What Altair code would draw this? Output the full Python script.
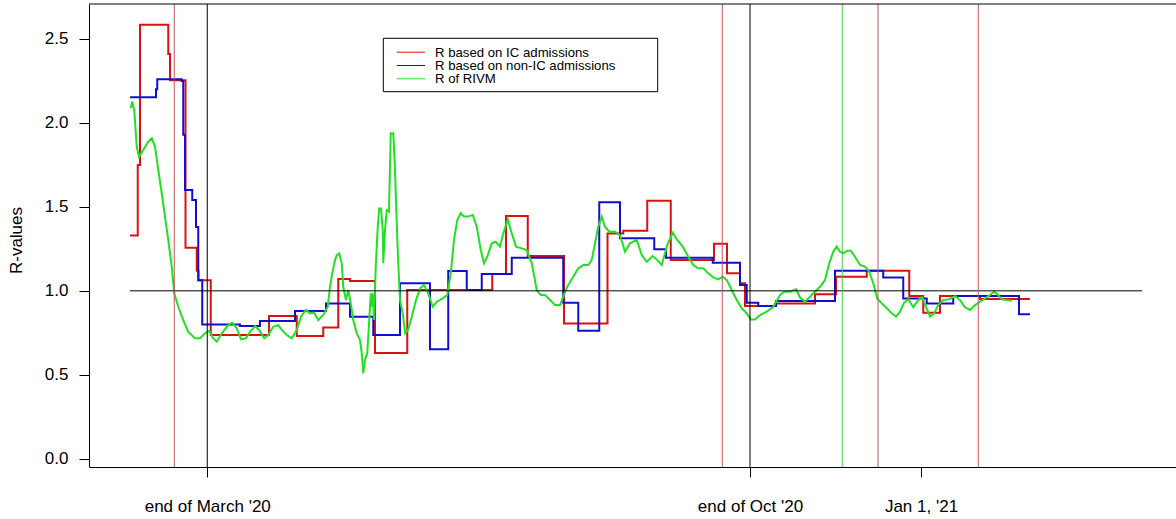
import json

import altair as alt
import pandas as pd

# ---------------------------------------------------------------------------
# Axes: x runs in days since the first estimate, y is the reproduction number
# ---------------------------------------------------------------------------
X_MIN, X_MAX = -16.4, 418.4
Y_MIN, Y_MAX = -0.049, 2.708

tick_days = [30.9, 248.0, 316.4]
tick_labels = ["end of March '20", "end of Oct '20", "Jan 1, '21"]
y_ticks = [0.0, 0.5, 1.0, 1.5, 2.0, 2.5]

# Reference level R = 1
ref_level = 1.0
ref_start, ref_end = 0.0, 404.8

# Marker days drawn as vertical lines
black_lines = [30.9, 248.0]
red_lines = [17.7, 236.9, 299.2, 339.3]
green_lines = [284.9]

series_names = ["R based on IC admissions", "R based on non-IC admissions", "R of RIVM"]
series_colors = ["#dc1010", "#1010cc", "#22e022"]

# R from IC admissions (step function: day the value starts, value)
ic_day = [0.0, 3.1, 4.0, 15.3, 16.0, 22.2, 26.7, 27.4, 32.3, 55.6, 66.7, 77.3,
          83.3, 88.0, 98.0, 110.9, 144.9, 150.4, 159.1, 173.6, 191.0, 197.3,
          206.9, 216.3, 233.6, 238.8, 244.0, 246.0, 258.0, 274.0, 282.4, 294.7,
          311.7, 317.3, 324.0, 340.0, 360.0]
ic_r = [1.33, 1.75, 2.585, 2.41, 2.254, 1.257, 1.12, 1.063, 0.737, 0.85, 0.731,
        0.782, 1.07, 1.058, 0.63, 1.005, 1.10, 1.445, 1.207, 0.806, 1.342, 1.358,
        1.537, 1.183, 1.28, 1.104, 1.045, 0.91, 0.925, 0.98, 1.084, 1.12, 0.969,
        0.87, 0.969, 0.951, 0.951]

# R from non-IC admissions (step function)
nonic_day = [0.0, 10.4, 10.9, 20.7, 21.3, 22.0, 24.9, 26.4, 27.3, 28.9, 44.0,
             52.0, 66.0, 78.4, 88.0, 97.3, 108.0, 120.0, 127.3, 134.7, 140.7,
             152.7, 173.3, 179.3, 187.7, 196.0, 209.7, 214.4, 233.1, 244.0,
             246.7, 251.3, 258.4, 282.0, 301.3, 309.3, 318.7, 329.3, 355.6, 360.0]
nonic_r = [2.152, 2.20, 2.26, 2.25, 1.93, 1.60, 1.541, 1.38, 1.063, 0.80, 0.79,
           0.82, 0.88, 0.925, 0.846, 0.737, 1.045, 0.652, 1.118, 1.005, 1.10,
           1.197, 0.929, 0.762, 1.527, 1.313, 1.247, 1.197, 1.167, 1.035, 0.929,
           0.91, 0.94, 1.12, 1.08, 0.955, 0.925, 0.969, 0.86, 0.86]

# RIVM estimate
rivm_day = [0.3, 0.9, 1.7, 2.7, 3.6, 5.3, 7.3, 8.7, 10.0, 11.3, 12.7, 14.0, 15.3,
            16.7, 17.7, 19.3, 21.3, 23.3, 26.0, 28.0, 30.0, 31.7, 33.3, 34.7,
            36.7, 39.3, 40.9, 42.7, 44.4, 46.3, 48.0, 50.0, 51.6, 53.7, 55.3,
            57.3, 59.3, 60.7, 62.7, 64.7, 66.7, 68.4, 70.3, 72.0, 73.6, 75.3,
            77.3, 79.1, 80.0, 80.9, 82.0, 82.7, 83.7, 84.7, 85.3, 86.4, 87.3,
            88.3, 89.3, 90.7, 92.0, 92.7, 93.3, 94.0, 94.9, 95.7, 96.3, 96.7,
            97.1, 97.6, 98.3, 99.1, 99.7, 100.4, 101.1, 101.3, 102.0, 102.7,
            103.6, 104.3, 105.3, 105.9, 106.7, 107.3, 108.0, 109.1, 110.1, 111.2,
            112.7, 114.4, 116.0, 117.6, 119.3, 121.1, 122.7, 125.1, 126.9, 128.3,
            129.6, 130.9, 132.3, 133.6, 135.3, 137.1, 138.7, 140.3, 141.6, 142.9,
            144.7, 146.3, 148.0, 149.3, 151.1, 152.7, 154.4, 156.7, 158.7, 160.7,
            162.7, 164.3, 166.0, 168.0, 170.0, 172.0, 173.3, 174.9, 177.3, 179.3,
            181.3, 183.3, 184.7, 186.0, 187.3, 188.7, 190.0, 191.7, 194.0, 196.0,
            198.0, 200.0, 202.7, 204.7, 206.7, 209.1, 210.9, 212.7, 214.9, 217.1,
            218.9, 221.1, 223.3, 225.3, 227.3, 229.3, 231.3, 233.3, 235.3, 237.1,
            238.7, 240.7, 242.7, 244.7, 246.7, 248.3, 250.0, 252.0, 254.7, 257.3,
            260.0, 261.6, 264.0, 266.4, 268.0, 270.0, 272.0, 274.0, 276.0, 278.0,
            279.7, 281.3, 282.7, 284.0, 285.3, 286.9, 288.3, 290.0, 292.0, 294.0,
            295.7, 297.3, 298.9, 300.7, 302.7, 304.7, 306.4, 308.0, 309.6, 311.3,
            313.3, 315.3, 316.9, 318.4, 320.0, 321.6, 323.3, 325.3, 327.7, 330.0,
            332.0, 334.0, 336.0, 338.0, 340.0, 342.0, 344.0, 345.6, 346.9, 348.7,
            350.7, 352.7]
rivm_r = [2.087, 2.126, 2.077, 1.858, 1.799, 1.839, 1.888, 1.908, 1.858, 1.72,
          1.581, 1.441, 1.303, 1.144, 0.985, 0.905, 0.826, 0.756, 0.717, 0.717,
          0.747, 0.762, 0.717, 0.697, 0.747, 0.796, 0.81, 0.777, 0.711, 0.717,
          0.756, 0.79, 0.767, 0.717, 0.737, 0.786, 0.796, 0.767, 0.737, 0.717,
          0.767, 0.846, 0.886, 0.866, 0.87, 0.826, 0.856, 0.905, 1.024, 1.104,
          1.183, 1.213, 1.223, 1.164, 1.024, 0.945, 1.005, 0.925, 0.826, 0.747,
          0.707, 0.628, 0.509, 0.588, 0.628, 0.826, 0.985, 0.905, 0.985, 0.826,
          1.144, 1.382, 1.491, 1.491, 1.362, 1.164, 1.362, 1.481, 1.471, 1.938,
          1.938, 1.759, 1.402, 1.164, 0.945, 0.866, 0.747, 0.767, 0.846, 0.945,
          1.015, 1.035, 0.985, 0.905, 0.935, 0.955, 0.975, 1.104, 1.303, 1.422,
          1.462, 1.442, 1.442, 1.452, 1.382, 1.243, 1.164, 1.203, 1.283, 1.292,
          1.263, 1.342, 1.426, 1.342, 1.263, 1.253, 1.243, 1.164, 1.005, 0.975,
          0.975, 0.945, 0.915, 0.915, 0.965, 1.024, 1.084, 1.134, 1.154, 1.154,
          1.183, 1.283, 1.382, 1.442, 1.382, 1.352, 1.352, 1.332, 1.233, 1.283,
          1.303, 1.213, 1.173, 1.207, 1.183, 1.154, 1.273, 1.346, 1.303, 1.263,
          1.203, 1.154, 1.134, 1.134, 1.104, 1.08, 1.068, 1.084, 1.064, 1.005,
          0.945, 0.896, 0.866, 0.83, 0.83, 0.856, 0.876, 0.905, 0.975, 0.995,
          0.995, 1.009, 0.96, 0.935, 0.965, 0.995, 1.024, 1.064, 1.164, 1.233,
          1.263, 1.233, 1.223, 1.239, 1.239, 1.203, 1.154, 1.144, 1.114, 1.045,
          0.955, 0.925, 0.896, 0.866, 0.846, 0.876, 0.929, 0.95, 0.902, 0.945,
          0.961, 0.905, 0.846, 0.866, 0.915, 0.945, 0.95, 0.969, 0.945, 0.902,
          0.886, 0.915, 0.935, 0.955, 0.975, 0.995, 0.981, 0.95, 0.945, 0.941]

FONT = "Liberation Sans"
PLOT_W, PLOT_H = 1087, 463

# ---------------------------------------------------------------------------
label_expr = f"{json.dumps(tick_labels)}[indexof({json.dumps(tick_days)}, datum.value)]"

x_enc = alt.X(
    "day:Q",
    scale=alt.Scale(domain=[X_MIN, X_MAX], nice=False, zero=False),
    axis=alt.Axis(
        values=tick_days, labelExpr=label_expr, title=None, grid=False,
        tickSize=10, tickColor="black", domainColor="black", labelColor="black",
        labelFontSize=17, labelFont=FONT, labelPadding=21, labelFlush=False,
        labelBaseline="top",
    ),
)
y_enc = alt.Y(
    "r:Q",
    scale=alt.Scale(domain=[Y_MIN, Y_MAX], nice=False, zero=False),
    axis=alt.Axis(
        values=y_ticks, format=".1f", grid=False, tickSize=10, tickColor="black",
        domainColor="black", labelColor="black", labelFontSize=17, labelFont=FONT,
        labelPadding=11, title="R-values", titleFont=FONT, titleFontSize=17,
        titleFontWeight="normal", titleColor="black", titleAngle=270,
        titleX=-73, titleY=236, titleAlign="center", titleBaseline="middle",
    ),
)

ic_df = pd.DataFrame({"day": ic_day, "r": ic_r})
nonic_df = pd.DataFrame({"day": nonic_day, "r": nonic_r})
rivm_df = pd.DataFrame({"day": rivm_day, "r": rivm_r})

ic_line = alt.Chart(ic_df).mark_line(
    interpolate="step-after", strokeWidth=2, color=series_colors[0]
).encode(x=x_enc, y=y_enc)
nonic_line = alt.Chart(nonic_df).mark_line(
    interpolate="step-after", strokeWidth=2, color=series_colors[1]
).encode(x=x_enc, y=y_enc)
rivm_line = alt.Chart(rivm_df).mark_line(
    strokeWidth=2, color=series_colors[2]
).encode(x=x_enc, y=y_enc)

ref_df = pd.DataFrame({"day": [ref_start], "day_end": [ref_end], "r": [ref_level]})
ref_rule = alt.Chart(ref_df).mark_rule(color="black", strokeWidth=1).encode(
    x=x_enc, x2="day_end:Q", y=y_enc
)


def vlines(days, color):
    return alt.Chart(pd.DataFrame({"day": days})).mark_rule(
        color=color, strokeWidth=1
    ).encode(x=x_enc)


black_rules = vlines(black_lines, "black")
red_rules = vlines(red_lines, "#c05656")
green_rules = vlines(green_lines, "#3ed83e")

one = pd.DataFrame({"k": [0]})
top_border = alt.Chart(one).mark_rule(color="black", strokeWidth=1).encode(
    x=alt.value(0), x2=alt.value(PLOT_W), y=alt.value(0)
)

# Legend box with line samples and labels
legend_box = alt.Chart(one).mark_rect(
    fill="white", stroke="black", strokeWidth=1
).encode(x=alt.value(294.3), x2=alt.value(568.7), y=alt.value(34.3), y2=alt.value(87.7))

legend_rows = [48.2, 61.5, 74.8]
legend_layers = [legend_box]
for name, color, row_y in zip(series_names, series_colors, legend_rows):
    row_df = pd.DataFrame({"label": [name]})
    legend_layers.append(
        alt.Chart(row_df).mark_rule(color=color, strokeWidth=1).encode(
            x=alt.value(307.7), x2=alt.value(336), y=alt.value(row_y)
        )
    )
    legend_layers.append(
        alt.Chart(row_df).mark_text(
            align="left", baseline="middle", fontSize=13.2, font=FONT, color="black"
        ).encode(x=alt.value(346), y=alt.value(row_y + 0.5), text="label:N")
    )

chart = alt.layer(
    ic_line, nonic_line, rivm_line, ref_rule,
    black_rules, red_rules, green_rules, top_border,
    *legend_layers,
).properties(
    width=PLOT_W,
    height=PLOT_H,
    padding={"left": 89, "top": 4, "right": 0, "bottom": 52},
    autosize=alt.AutoSizeParams(type="none"),
    background="white",
).configure_view(stroke=None)

chart.save("out.html", embed_options={"renderer": "svg", "actions": False})
